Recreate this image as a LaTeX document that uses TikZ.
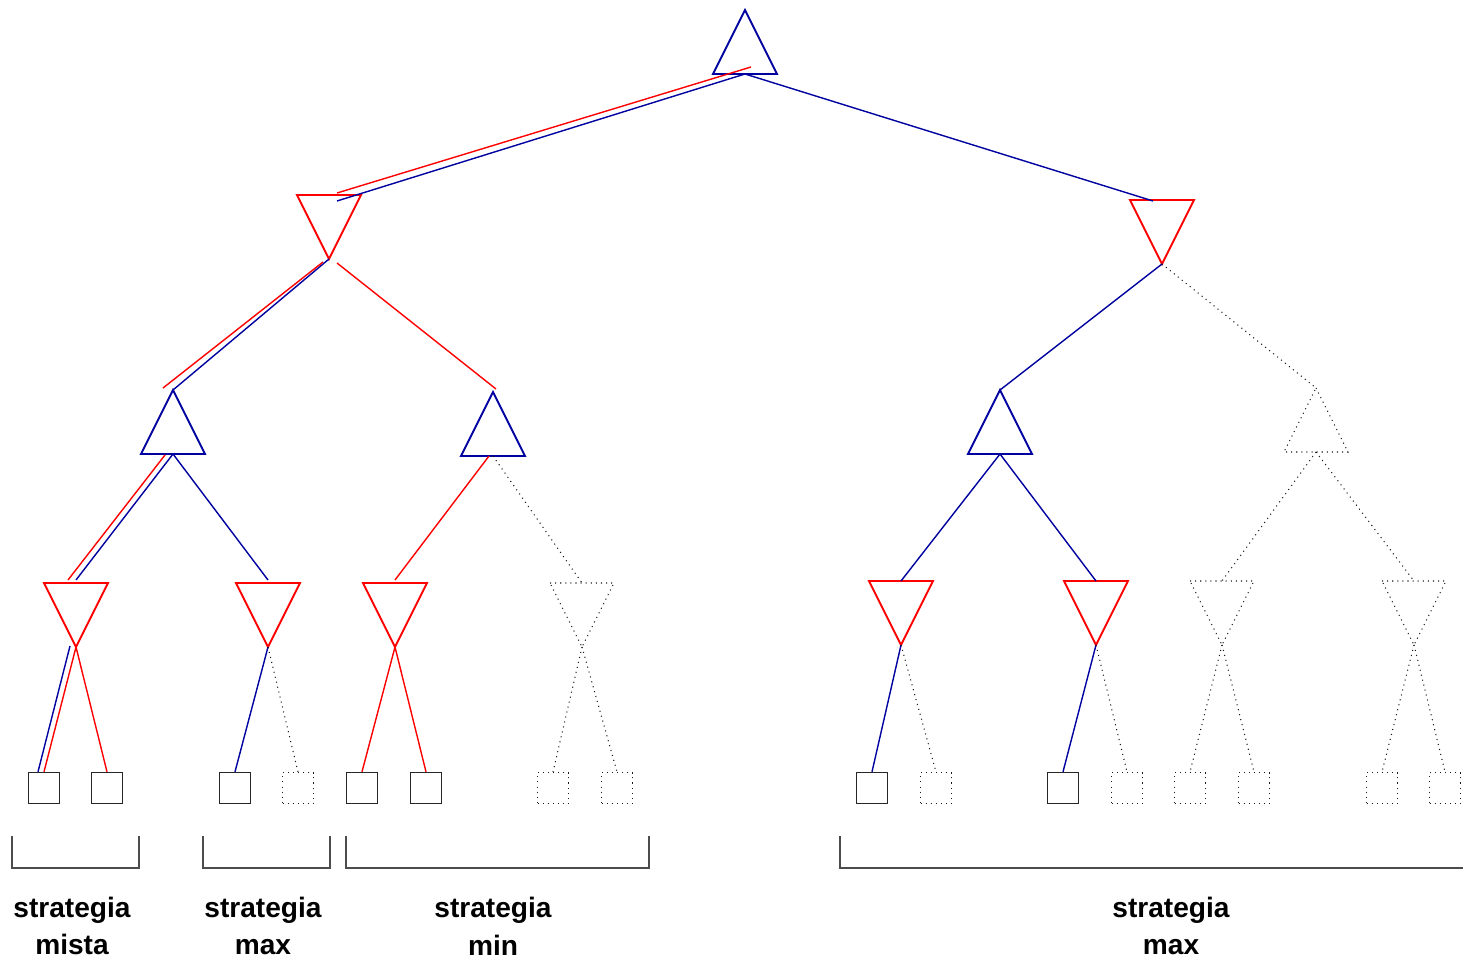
\documentclass[tikz,border=0pt]{standalone}
\usepackage{fontspec}
\setmainfont{Liberation Sans}
\usetikzlibrary{calc}
\definecolor{minred}{RGB}{255,0,0}
\definecolor{maxblue}{RGB}{0,0,160}
\tikzset{
	maxtri/.pic={\draw[pic actions] (0,0) coordinate (-t) -- (32,64) -- (-32,64) -- cycle; \coordinate (-b) at (0,64);},
	mintri/.pic={\draw[pic actions] (-32,0) -- (32,0) -- (0,64) -- cycle; \coordinate (-t) at (0,0); \coordinate (-b) at (0,64);},
	triblue/.style={draw=maxblue, line width=1.1pt},
	trired/.style={draw=minred, line width=1.1pt},
	bluel/.style={draw=maxblue, line width=0.8pt},
	redl/.style={draw=minred, line width=0.8pt},
	cut/.style={draw=black!90, line width=0.6pt, dash pattern=on 0.6pt off 2.3pt},
	leaf/.style={draw=black!85, line width=0.8pt, minimum size=0.62cm, inner sep=0pt},
	cutleaf/.style={leaf, cut},
	bracket/.style={draw=black!70, line width=0.6pt},
	lbl/.style={font=\fontsize{16}{21.5}\selectfont\bfseries, align=center}
}
\begin{document}
\begin{tikzpicture}[x=0.02cm, y=-0.02cm]
\useasboundingbox (0,0) rectangle (1463,959);

% max / min levels
\pic[triblue] (r) at (745,10) {maxtri};
\pic[trired] (a) at (329,195) {mintri};
\pic[trired] (b) at (1162,200) {mintri};
\pic[triblue] (aa) at (173,390) {maxtri};
\pic[triblue] (ab) at (493,392) {maxtri};
\pic[triblue] (ba) at (1000,390) {maxtri};
\pic[cut] (bb) at (1316,388) {maxtri};
\foreach \n/\x/\y in {aaa/76/583, aab/268/583, aba/395/583, baa/901/581, bab/1096/581} {
	\pic[trired] (\n) at (\x,\y) {mintri};
}
\foreach \n/\x/\y in {abb/582/583, bba/1222/581, bbb/1414/581} {
	\pic[cut] (\n) at (\x,\y) {mintri};
}

% leaves
\foreach \n/\x in {l1/44, l2/107, l3/235, l5/362, l6/426, l9/872, l11/1063} {
	\node[leaf] (\n) at (\x,788) {};
}
\foreach \n/\x in {l4/298, l7/553, l8/617, l10/936, l12/1127, l13/1190, l14/1254, l15/1382, l16/1445} {
	\node[cutleaf] (\n) at (\x,788) {};
}

% root
\draw[bluel] (r-b) -- ($(a-t)+(8,6)$);
\draw[redl] ($(r-b)+(6,-7)$) -- ($(a-t)+(8,-2)$);
\draw[bluel] (r-b) -- ($(b-t)+(-9,1)$);

% left subtree
\draw[bluel] (a-b) -- (aa-t);
\draw[redl] ($(a-b)+(-6,3)$) -- ($(aa-t)+(-10,-2)$);
\draw[redl] ($(a-b)+(8,4)$) -- ($(ab-t)+(3,-3)$);
\draw[bluel] (aa-b) -- ($(aaa-t)+(0,-3)$);
\draw[redl] ($(aa-b)+(-8,1)$) -- ($(aaa-t)+(-8,-3)$);
\draw[bluel] (aa-b) -- ($(aab-t)+(0,-3)$);
\draw[redl] ($(ab-b)+(-4,0)$) -- ($(aba-t)+(0,-3)$);
\draw[cut] (ab-b) -- (abb-t);

\draw[bluel] ($(aaa-b)+(-6,-1)$) -- ($(l1.north)+(-6,0)$);
\draw[redl] (aaa-b) -- (l1.north);
\draw[redl] (aaa-b) -- (l2.north);
\draw[bluel] (aab-b) -- (l3.north);
\draw[cut] (aab-b) -- (l4.north);
\draw[redl] (aba-b) -- (l5.north);
\draw[redl] (aba-b) -- (l6.north);

% right subtree
\draw[bluel] (b-b) -- (ba-t);
\draw[cut] (b-b) -- (bb-t);
\draw[bluel] (ba-b) -- (baa-t);
\draw[bluel] (ba-b) -- (bab-t);
\draw[bluel] (baa-b) -- (l9.north);
\draw[bluel] (bab-b) -- (l11.north);
\draw[cut] (bb-b) -- (bba-t);
\draw[cut] (bb-b) -- (bbb-t);
\foreach \p/\c in {abb/l7, abb/l8, baa/l10, bab/l12, bba/l13, bba/l14, bbb/l15, bbb/l16} {
	\draw[cut] (\p-b) -- (\c.north);
}

% brackets
\foreach \xa/\xb in {12/139, 203/330, 346/649} {
	\draw[bracket] (\xa,836) -- (\xa,868) -- (\xb,868) -- (\xb,836);
}
\draw[bracket] (840,836) -- (840,868) -- (1463,868);

\node[lbl] (s1) at (72,926) {strategia\\mista};
\node[lbl] (s2) at (263,926) {strategia\\max};
\node[lbl] (s3) at (493,926) {strategia\\min};
\node[lbl] (s4) at (1171,926) {strategia\\max};
\end{tikzpicture}
\end{document}
